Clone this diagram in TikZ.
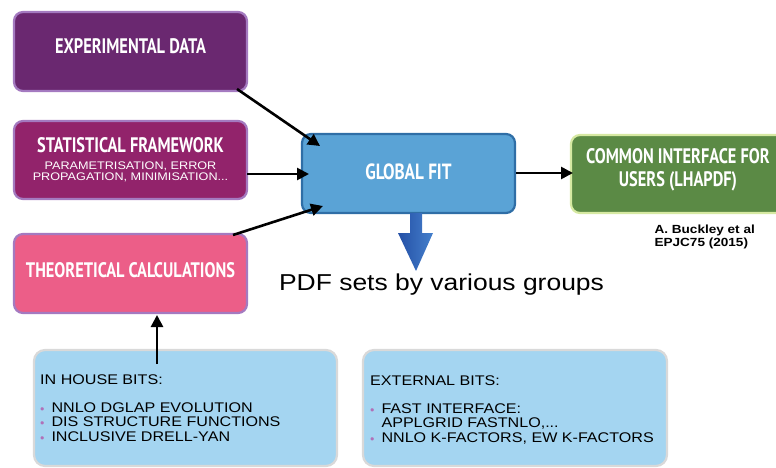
\documentclass[tikz,border=0pt]{standalone}
\usepackage{fontspec}
\setmainfont[FakeStretch=1.15]{Liberation Sans}
\newfontfamily\condfont[FakeStretch=0.78]{PT Sans}
\usetikzlibrary{arrows.meta}
\definecolor{edfill}{HTML}{6A2870}
\definecolor{sffill}{HTML}{92236B}
\definecolor{tcfill}{HTML}{EC5E88}
\definecolor{purpleedge}{HTML}{A47AC0}
\definecolor{gffill}{HTML}{5AA3D6}
\definecolor{gfedge}{HTML}{2F6EA6}
\definecolor{cifill}{HTML}{5B8A45}
\definecolor{ciedge}{HTML}{D6E9A2}
\definecolor{bitfill}{HTML}{A4D5F1}
\definecolor{bitedge}{HTML}{D9D9D9}
\definecolor{bulletc}{HTML}{B070B8}
\definecolor{arrowdark}{HTML}{2450A6}
\definecolor{arrowlight}{HTML}{4580CC}
\tikzset{
  box/.style={rounded corners=9pt, line width=2.2pt},
  title/.style={text=white, font=\condfont\bfseries\fontsize{21}{22}\selectfont, align=center},
  subtitle/.style={text=white, font=\fontsize{11}{11.5}\selectfont, align=center},
  conn/.style={-{Triangle[length=12pt,width=12pt]}, line width=2.6pt, black},
  bits/.style={font=\fontsize{14}{14.5}\selectfont, align=left, anchor=north west, inner sep=0pt},
}
\newcommand{\bul}{\textcolor{bulletc}{\raisebox{0.15ex}{\scalebox{0.6}{$\bullet$}}}\hspace{7pt}}
\begin{document}
\begin{tikzpicture}[x=1pt,y=-1pt]
\useasboundingbox (0,0) rectangle (776,468);
% boxes
\draw[box, fill=edfill, draw=purpleedge] (14,12) rectangle (247,91);
\node[title] (edt) at (130.5,46) {EXPERIMENTAL DATA};
\draw[box, fill=sffill, draw=purpleedge] (14,121) rectangle (247,199);
\node[title] (sft) at (130.5,145) {STATISTICAL FRAMEWORK};
\node[subtitle] (sfs) at (130.5,172) {PARAMETRISATION, ERROR\\PROPAGATION, MINIMISATION...};
\draw[box, fill=tcfill, draw=purpleedge] (14,234) rectangle (247,313);
\node[title] (tct) at (130.5,270) {THEORETICAL CALCULATIONS};
\draw[box, fill=gffill, draw=gfedge] (302,134) rectangle (515,213);
\node[title, font=\condfont\bfseries\fontsize{22}{22}\selectfont] (gft) at (408.5,172) {GLOBAL FIT};
\draw[box, fill=cifill, draw=ciedge] (571,135) rectangle (790,213);
\node[title, font=\condfont\bfseries\fontsize{21}{23}\selectfont] (cit) at (678,170) {COMMON INTERFACE FOR\\USERS (LHAPDF)};
\node[font=\bfseries\fontsize{11.8}{13}\selectfont, align=left, anchor=west] (ref) at (651,237) {A. Buckley et al\\EPJC75 (2015)};
% fat arrow
\shade[left color=arrowdark, right color=arrowlight]
  (410,213) -- (422,213) -- (422,233) -- (433,233) -- (416,271) -- (398,233) -- (410,233) -- cycle;
\node[font=\fontsize{23}{24}\selectfont] (pdf) at (441.5,285) {PDF sets by various groups};
% bits boxes
\draw[rounded corners=11pt, line width=2.2pt, fill=bitfill, draw=bitedge] (34,350) rectangle (337,466);
\node[bits] (inh) at (40,375) {IN HOUSE BITS:\\[13pt]
\bul NNLO DGLAP EVOLUTION\\
\bul DIS STRUCTURE FUNCTIONS\\
\bul INCLUSIVE DRELL-YAN};
\draw[rounded corners=11pt, line width=2.2pt, fill=bitfill, draw=bitedge] (363,350) rectangle (667,466);
\node[bits] (ext) at (370,376) {EXTERNAL BITS:\\[13pt]
\bul FAST INTERFACE:\\
\hphantom{\bul}APPLGRID FASTNLO,...\\
\bul NNLO K-FACTORS, EW K-FACTORS};
% connectors
\coordinate (a1s) at (237,89);
\coordinate (a1e) at (320,146);
\draw[conn] (a1s) -- (a1e);
\coordinate (a2s) at (247,174);
\coordinate (a2e) at (309,174);
\draw[conn] (a2s) -- (a2e);
\coordinate (a3s) at (233,235);
\coordinate (a3e) at (323,206);
\draw[conn] (a3s) -- (a3e);
\coordinate (a4s) at (516,173);
\coordinate (a4e) at (573,173);
\draw[conn] (a4s) -- (a4e);
\coordinate (a5s) at (157,364);
\coordinate (a5e) at (157,315);
\draw[conn] (a5s) -- (a5e);
\end{tikzpicture}
\end{document}
